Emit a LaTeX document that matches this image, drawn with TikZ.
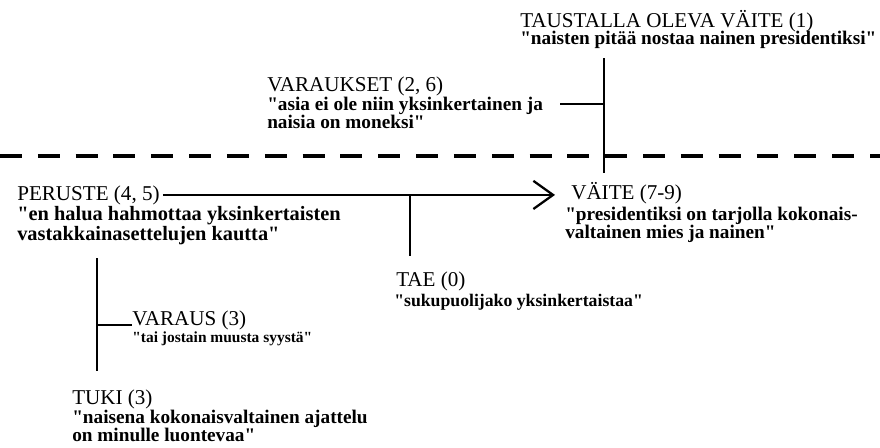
\documentclass[tikz,border=0pt]{standalone}
\usepackage{fontspec}
\setmainfont{Liberation Serif}[Ligatures=TeXOff]
\usetikzlibrary{arrows.meta}

\newcommand{\headfont}{\fontsize{15}{17}\selectfont}
\newcommand{\quotefont}{\fontsize{13.7}{12.8}\selectfont\bfseries}

\begin{document}
\begin{tikzpicture}[>={Straight Barb[length=14pt,width=20pt,line width=1.6pt]},
    x=0.025cm, y=-0.025cm,
    head/.style={anchor=base west, inner sep=0pt, font=\headfont},
    quote/.style={anchor=north west, inner sep=0pt, align=left, font=\quotefont},
    link/.style={line width=1.8pt},
    split/.style={line width=3.5pt, dash pattern=on 15.6pt off 11.3pt}]
    \useasboundingbox (0,0) rectangle (880,447);

    % taustalla oleva vaite ja varaukset
    \node[head]  (tausta)  at (520, 27)  {TAUSTALLA OLEVA VÄITE (1)};
    \node[quote] (taustaq) at (520, 31)  {"naisten pitää nostaa nainen presidentiksi"};
    \node[head]  (varaukset)  at (267, 91) {VARAUKSET (2, 6)};
    \node[quote] (varauksetq) at (267, 97) {"asia ei ole niin yksinkertainen ja\\naisia on moneksi"};
    \coordinate (tdrop) at (604, 58);
    \coordinate (vjoin) at (560, 104);

    % katkoviiva
    \draw[split] (0, 156) -- (880, 156);

    % peruste, vaite ja tae
    \node[head]  (peruste)  at (17, 200)  {PERUSTE (4, 5)};
    \node[quote, font=\fontsize{14.5}{12.8}\selectfont\bfseries] (perusteq) at (17, 206)
        {"en halua hahmottaa yksinkertaisten\\vastakkainasettelujen kautta"};
    \node[head]  (vaite)    at (571, 199) {VÄITE (7-9)};
    \node[quote] (vaiteq)   at (565, 207) {"presidentiksi on tarjolla kokonais-\\valtainen mies ja nainen"};
    \node[head]  (tae)      at (396, 286) {TAE (0)};
    \node[quote, font=\fontsize{12.6}{12.8}\selectfont\bfseries] (taeq) at (394, 294)
        {"sukupuolijako yksinkertaistaa"};

    % tuki ja varaus
    \node[head]  (varaus)  at (132, 325) {VARAUS (3)};
    \node[quote, font=\fontsize{11}{12}\selectfont\bfseries] (varausq) at (132, 331)
        {"tai jostain muusta syystä"};
    \node[head]  (tuki)    at (72, 404)  {TUKI (3)};
    \node[quote] (tukiq)   at (72, 410)  {"naisena kokonaisvaltainen ajattelu\\on minulle luontevaa"};
    \coordinate (ttop) at (97, 258);

    % yhteydet
    \draw[link] (tdrop) -- ([yshift=6pt]tdrop |- vaite.north);
    \draw[link] (vjoin) -- (tdrop |- vjoin);
    \draw[link, ->] ([xshift=2pt]peruste.east) -- ([xshift=-0.4cm]vaite.west |- peruste.east);
    \draw[link] (peruste.east -| 410, 0) -- ([yshift=11pt]tae.north -| 410, 0);
    \draw[link] (ttop) -- ([yshift=0.45cm]ttop |- tuki.north);
    \draw[link] (ttop |- varaus.base west) -- (varaus.base west);
\end{tikzpicture}
\end{document}
